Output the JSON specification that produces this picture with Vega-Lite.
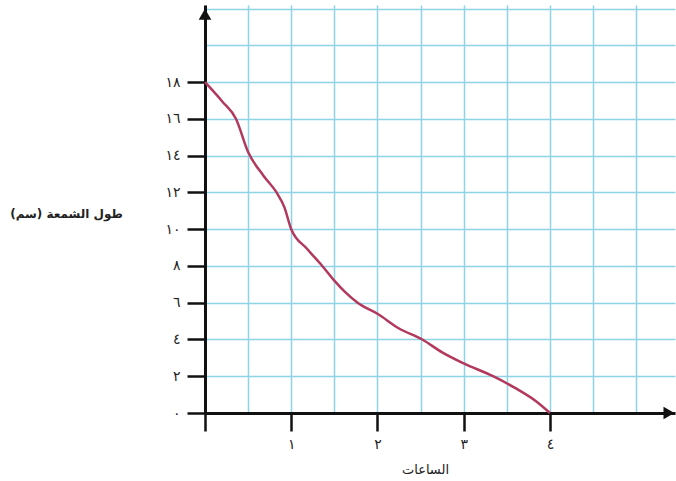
{
  "$schema": "https://vega.github.io/schema/vega-lite/v6.json",
  "autosize": {"type": "none"},
  "padding": {"left": 205, "top": 5, "right": 1, "bottom": 68},
  "width": 470,
  "height": 408,
  "background": "white",
  "config": {
    "view": {"stroke": null},
    "axis": {"labelFont": "DejaVu Sans", "titleFont": "DejaVu Sans", "labelColor": "#222", "titleColor": "#222"}
  },
  "datasets": {
    "candle": [
      {"h": 0, "len": 18},
      {"h": 0.2, "len": 16.95},
      {"h": 0.36, "len": 16},
      {"h": 0.5, "len": 14.2},
      {"h": 0.68, "len": 12.9},
      {"h": 0.83, "len": 12},
      {"h": 0.92, "len": 11.2},
      {"h": 1, "len": 10},
      {"h": 1.18, "len": 8.95},
      {"h": 1.36, "len": 8},
      {"h": 1.5, "len": 7.2},
      {"h": 1.62, "len": 6.6},
      {"h": 1.77, "len": 6},
      {"h": 2, "len": 5.4},
      {"h": 2.25, "len": 4.6},
      {"h": 2.52, "len": 4},
      {"h": 2.75, "len": 3.3},
      {"h": 3, "len": 2.7},
      {"h": 3.34, "len": 2},
      {"h": 3.6, "len": 1.35},
      {"h": 3.85, "len": 0.6},
      {"h": 4, "len": 0}
    ],
    "arrowY": [{"h": 0, "len": 21.7}],
    "arrowX": [{"h": 5.38, "len": 0}]
  },
  "layer": [
    {
      "data": {"name": "candle"},
      "mark": {"type": "line", "color": "#b2385c", "strokeWidth": 2.5, "interpolate": "monotone"},
      "encoding": {
        "x": {
          "field": "h", "type": "quantitative",
          "scale": {"domain": [0, 5.45], "nice": false, "zero": true},
          "axis": {
            "values": [0, 0.5, 1, 1.5, 2, 2.5, 3, 3.5, 4, 4.5, 5],
            "tickCount": 40,
            "grid": true, "gridColor": "#8fd3e6", "gridWidth": 1.5, "gridOpacity": 1,
            "domainColor": "#111", "domainWidth": 3,
            "tickColor": "#111", "tickWidth": 2.5, "tickSize": 18,
            "tickOpacity": {"condition": {"test": "datum.value % 1 !== 0 || datum.value > 4", "value": 0}, "value": 1},
            "labelExpr": "datum.value == 1 ? '١' : datum.value == 2 ? '٢' : datum.value == 3 ? '٣' : datum.value == 4 ? '٤' : ''",
            "labelFontSize": 14, "labelPadding": 6,
            "title": "الساعات", "titleFontSize": 13, "titleFontWeight": "normal",
            "titleX": 220, "titleY": 56, "titleAnchor": "middle", "titleBaseline": "middle"
          }
        },
        "y": {
          "field": "len", "type": "quantitative",
          "scale": {"domain": [0, 22.2], "nice": false},
          "axis": {
            "values": [0, 2, 4, 6, 8, 10, 12, 14, 16, 18, 20, 22],
            "tickCount": 40,
            "grid": true, "gridColor": "#8fd3e6", "gridWidth": 1.5, "gridOpacity": 1,
            "domainColor": "#111", "domainWidth": 3,
            "tickColor": "#111", "tickWidth": 2.5, "tickSize": 18,
            "tickOpacity": {"condition": {"test": "datum.value > 18", "value": 0}, "value": 1},
            "labelExpr": "datum.value == 0 ? '٠' : datum.value == 2 ? '٢' : datum.value == 4 ? '٤' : datum.value == 6 ? '٦' : datum.value == 8 ? '٨' : datum.value == 10 ? '١٠' : datum.value == 12 ? '١٢' : datum.value == 14 ? '١٤' : datum.value == 16 ? '١٦' : datum.value == 18 ? '١٨' : ''",
            "labelFontSize": 14, "labelPadding": 7,
            "title": "‏طول الشمعة (سم)‏", "titleFontSize": 12, "titleFontWeight": "bold",
            "titleAngle": 0, "titleX": -139, "titleY": 208, "titleAlign": "center", "titleBaseline": "middle"
          }
        }
      }
    },
    {
      "data": {"name": "arrowY"},
      "mark": {"type": "point", "shape": "triangle-up", "filled": true, "color": "#111", "size": 160, "opacity": 1},
      "encoding": {
        "x": {"field": "h", "type": "quantitative"},
        "y": {"field": "len", "type": "quantitative"}
      }
    },
    {
      "data": {"name": "arrowX"},
      "mark": {"type": "point", "shape": "triangle-right", "filled": true, "color": "#111", "size": 160, "opacity": 1},
      "encoding": {
        "x": {"field": "h", "type": "quantitative"},
        "y": {"field": "len", "type": "quantitative"}
      }
    }
  ]
}
